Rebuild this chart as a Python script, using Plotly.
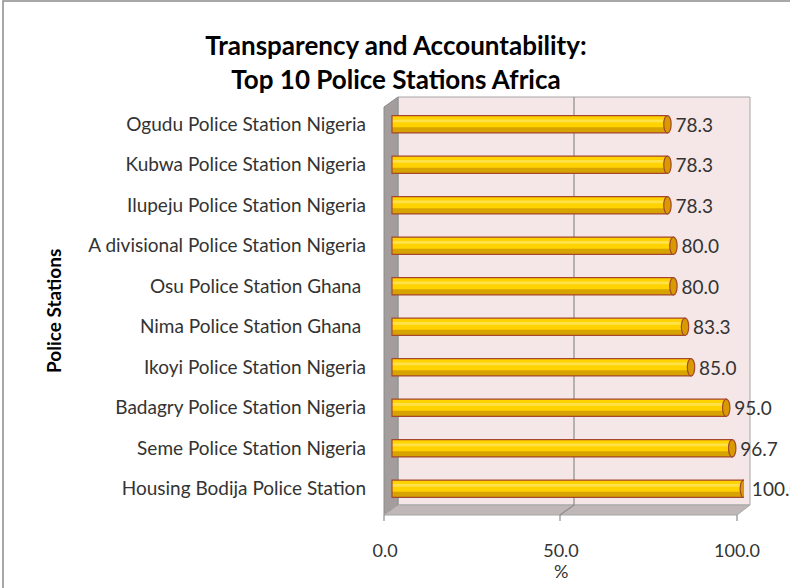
import plotly.graph_objects as go

# ---- data (bottom-to-top order) ----
stations = [
    "Housing Bodija Police Station",
    "Seme Police Station Nigeria",
    "Badagry Police Station Nigeria",
    "Ikoyi Police Station Nigeria",
    "Nima Police Station Ghana ",
    "Osu Police Station Ghana ",
    "A divisional Police Station Nigeria",
    "Ilupeju Police Station Nigeria",
    "Kubwa Police Station Nigeria",
    "Ogudu Police Station Nigeria",
]
scores = [100.0, 96.7, 95.0, 85.0, 83.3, 80.0, 80.0, 78.3, 78.3, 78.3]
x_ticks = [0, 50, 100]
x_tick_labels = ["0.0", "50.0", "100.0"]

title_text = "Transparency and Accountability:<br>Top 10 Police Stations Africa"
x_title = "%"
y_title = "Police Stations"

# ---- geometry (pixels) ----
W, H = 790, 588
PL, PR, PT, PB = 385, 744, 104, 509
BAR0 = 392  # pixel where bar value 0 sits
scale = (PR - BAR0) / 100.0
x_lo = -(BAR0 - PL) / scale
x2_hi = (PR - PL) / scale

def X(px):
    return (px - PL) / (PR - PL)

def Y(py):
    return (PB - py) / (PB - PT)

FONT = "Lato, Calibri, Arial, sans-serif"
TXT = "#333333"
EDGE = "#A5472E"

fig = go.Figure()

bw = 0.43
# base fill
fig.add_trace(go.Bar(
    y=stations, x=scores, orientation="h", width=bw,
    marker=dict(color="#FFD200", line=dict(width=0)),
    hoverinfo="skip", showlegend=False,
))
# lower darker band (cylinder shading)
fig.add_trace(go.Bar(
    y=stations, x=scores, orientation="h", width=0.14, offset=-bw / 2,
    marker=dict(color="#D6A300", line=dict(width=0)),
    hoverinfo="skip", showlegend=False,
))
# highlight band
fig.add_trace(go.Bar(
    y=stations, x=scores, orientation="h", width=0.07, offset=0.05,
    marker=dict(color="#FFE24A", line=dict(width=0)),
    hoverinfo="skip", showlegend=False,
))
# outline + labels
fig.add_trace(go.Bar(
    y=stations, x=scores, orientation="h", width=bw,
    marker=dict(color="rgba(0,0,0,0)", line=dict(width=1.2, color=EDGE)),
    text=["\u00a0" + f"{v:.1f}" for v in scores], textposition="outside",
    textfont=dict(family=FONT, size=19, color=TXT),
    constraintext="none", cliponaxis=False,
    hoverinfo="skip", showlegend=False,
))
# invisible trace to hold the label axis
fig.add_trace(go.Scatter(x=[None], y=[None], xaxis="x2", yaxis="y",
                         hoverinfo="skip", showlegend=False))

shapes = []
# chart border
shapes.append(dict(type="rect", xref="paper", yref="paper",
                   x0=X(3), x1=X(800), y0=Y(1), y1=Y(600),
                   line=dict(color="#8C8C8C", width=1.5), fillcolor="rgba(0,0,0,0)",
                   layer="below"))
# back wall
shapes.append(dict(type="rect", xref="paper", yref="paper",
                   x0=X(398), x1=X(750), y0=Y(97), y1=Y(505),
                   line=dict(color="#A6A6A6", width=1), fillcolor="#F5E7E7", layer="below"))
# left wall
shapes.append(dict(type="path", xref="paper", yref="paper",
                   path=f"M {X(384)},{Y(107)} L {X(398)},{Y(97)} L {X(398)},{Y(505)} L {X(384)},{Y(515)} Z",
                   line=dict(color="#8C8C8C", width=1), fillcolor="#A39D9D", layer="below"))
# floor
shapes.append(dict(type="path", xref="paper", yref="paper",
                   path=f"M {X(398)},{Y(505)} L {X(750)},{Y(505)} L {X(737)},{Y(515)} L {X(384)},{Y(515)} Z",
                   line=dict(color="#A6A6A6", width=1), fillcolor="#C0B8B8", layer="below"))
# gridline at 50 on back wall and floor
shapes.append(dict(type="line", xref="paper", yref="paper",
                   x0=X(574), x1=X(574), y0=Y(97), y1=Y(505),
                   line=dict(color="#8C8C8C", width=1.2), layer="below"))
shapes.append(dict(type="line", xref="paper", yref="paper",
                   x0=X(574), x1=X(560), y0=Y(505), y1=Y(515),
                   line=dict(color="#8C8C8C", width=1.2), layer="below"))
# tick marks under floor
for px in (384, 560, 737):
    shapes.append(dict(type="line", xref="paper", yref="paper",
                       x0=X(px), x1=X(px), y0=Y(515), y1=Y(521),
                       line=dict(color="#8C8C8C", width=1.2), layer="below"))

# elliptical end caps of the cylinders, placed on the data scales
for i, v in enumerate(scores):
    shapes.append(dict(type="circle", xref="x", yref="y",
                       x0=v - 1.1, x1=v + 1.0, y0=i - bw / 2, y1=i + bw / 2,
                       fillcolor="#D89A00", line=dict(color=EDGE, width=1.2),
                       layer="above"))

fig.update_layout(
    width=W, height=H,
    margin=dict(l=PL, r=W - PR, t=PT, b=H - PB, pad=0),
    paper_bgcolor="white", plot_bgcolor="rgba(0,0,0,0)",
    barmode="overlay",
    title=dict(text=title_text, x=396 / W, xanchor="center",
               y=1 - 55 / H, yanchor="middle",
               font=dict(family=FONT, size=26, color="#000000", weight="bold")),
    xaxis=dict(range=[x_lo, 100], showgrid=False, zeroline=False,
               showticklabels=False, showline=False, fixedrange=True),
    xaxis2=dict(range=[0, x2_hi], overlaying="x", anchor="y", side="bottom",
                tickmode="array", tickvals=x_ticks, ticktext=x_tick_labels,
                ticks="outside", ticklen=0, ticklabelstandoff=25,
                tickfont=dict(family=FONT, size=18, color=TXT),
                showgrid=False, zeroline=False, showline=False),
    yaxis=dict(showgrid=False, zeroline=False, showline=False, ticks="",
               ticklabelstandoff=18,
               tickfont=dict(family=FONT, size=19, color=TXT),
               range=[-0.5, 9.5]),
    shapes=shapes,
    annotations=[
        dict(text=y_title, textangle=-90, xref="paper", yref="paper",
             x=X(53), y=Y(311), xanchor="center", yanchor="middle",
             showarrow=False,
             font=dict(family=FONT, size=19, color="#000000", weight="bold")),
        dict(text=x_title, xref="paper", yref="paper",
             x=X(561), y=Y(571), xanchor="center", yanchor="middle",
             showarrow=False,
             font=dict(family=FONT, size=18, color=TXT)),
    ],
)

fig.write_html("out.html", config={"displayModeBar": False},
               post_script="document.body.style.margin='0';")
